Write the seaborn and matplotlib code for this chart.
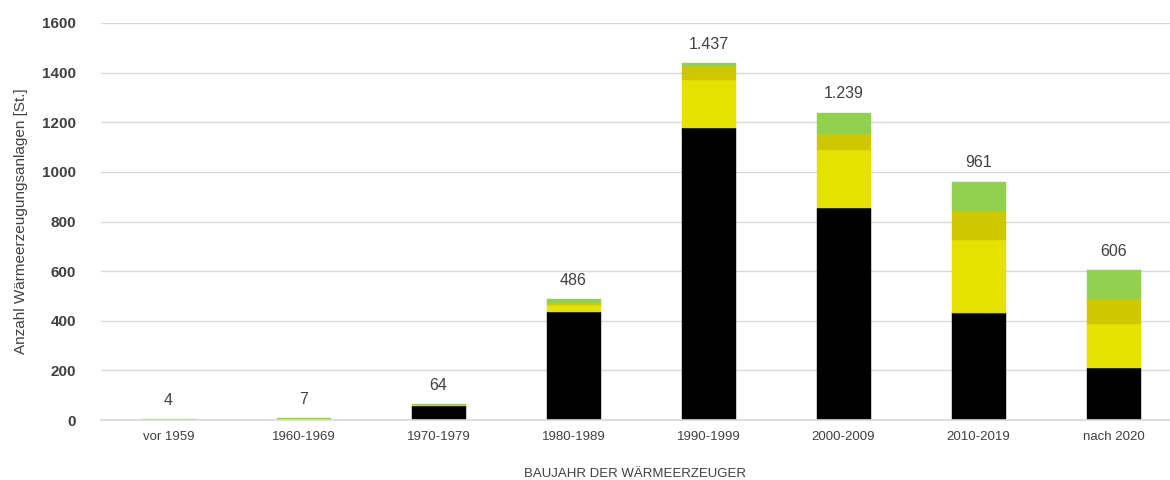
import matplotlib
matplotlib.use("Agg")
import matplotlib.pyplot as plt
import seaborn as sns
import pandas as pd

categories = ["vor 1959", "1960-1969", "1970-1979", "1980-1989",
              "1990-1999", "2000-2009", "2010-2019", "nach 2020"]
black_vals = [0, 0, 55, 435, 1177, 854, 431, 210]
yellow_vals = [1, 1, 4, 28, 193, 234, 294, 177]
darkyellow_vals = [1, 1, 2, 8, 57, 65, 117, 101]
green_vals = [2, 5, 3, 15, 10, 86, 119, 118]
totals = [4, 7, 64, 486, 1437, 1239, 961, 606]

series = [
    ("s1", black_vals, "#000000"),
    ("s2", yellow_vals, "#E6E200"),
    ("s3", darkyellow_vals, "#CDC800"),
    ("s4", green_vals, "#92D050"),
]

sns.set_theme(style="white")
plt.rcParams["font.family"] = ["Liberation Sans Narrow", "Liberation Sans", "DejaVu Sans"]

fig = plt.figure(figsize=(11.7, 4.8), dpi=100)
ax = fig.add_axes([101 / 1170, 1 - 420 / 480, (1170 - 101) / 1170, (420 - 23) / 480])

bottom = [0] * len(categories)
for name, vals, color in series:
    df = pd.DataFrame({"cat": categories, "val": vals})
    sns.barplot(data=df, x="cat", y="val", color=color, bottom=bottom,
                width=0.4, ax=ax, edgecolor=color, linewidth=0.3,
                saturation=1, errorbar=None)
    bottom = [b + v for b, v in zip(bottom, vals)]

for i, t in enumerate(totals):
    lab = f"{t:,}".replace(",", ".")
    ax.annotate(lab, (i, t), xytext=(0, 8), textcoords="offset points",
                ha="center", va="bottom", fontsize=11.5, color="#404040")

ax.set_ylim(0, 1600)
ax.set_xlim(-0.5, -0.5 + (1170 - 101) / 135)
ax.set_yticks(range(0, 1601, 200))
ax.yaxis.grid(True, color="#d9d9d9", linewidth=1)
ax.set_axisbelow(True)
for s in ["top", "right", "left"]:
    ax.spines[s].set_visible(False)
ax.spines["bottom"].set_color("#d9d9d9")
ax.spines["bottom"].set_linewidth(1.2)
ax.tick_params(axis="y", length=0, pad=18, labelsize=11, labelcolor="#404040")
ax.tick_params(axis="x", length=0, pad=8, labelsize=9.5, labelcolor="#404040")
for lbl in ax.get_yticklabels():
    lbl.set_fontweight("bold")
ax.set_ylabel("Anzahl Wärmeerzeugungsanlagen [St.]", fontsize=11, color="#404040", labelpad=10)
ax.set_xlabel("BAUJAHR DER WÄRMEERZEUGER", fontsize=9.5, color="#404040", labelpad=18)

fig.savefig("out.png", dpi=100)
